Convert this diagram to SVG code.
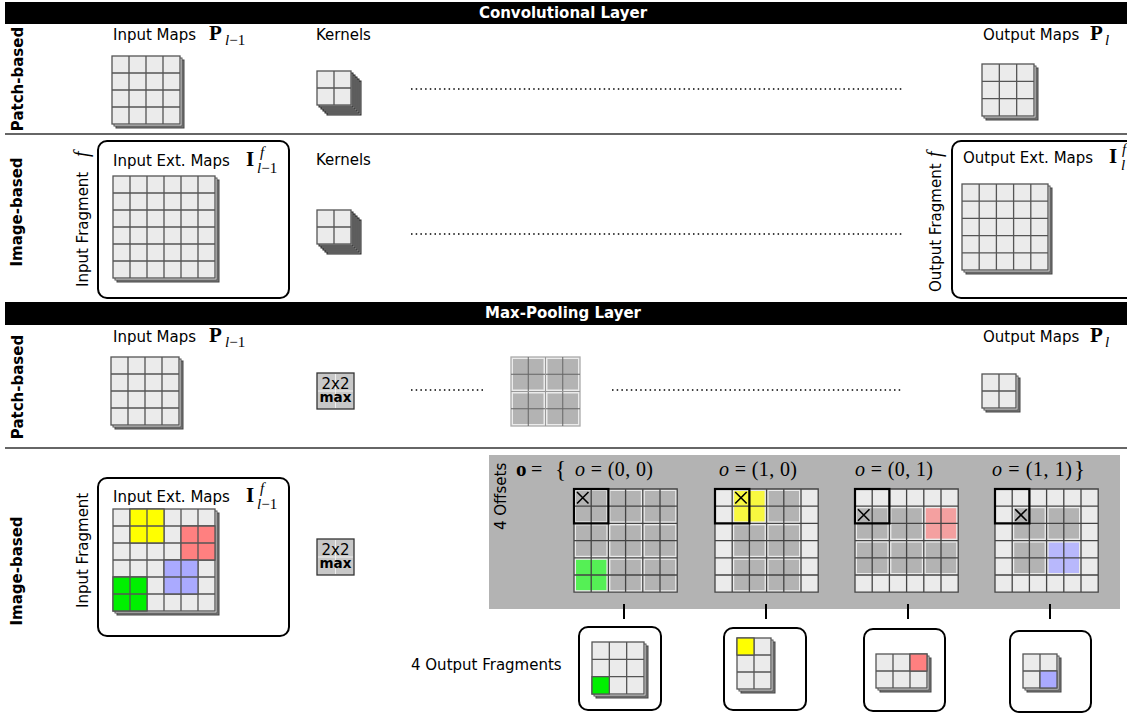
<svg xmlns="http://www.w3.org/2000/svg" width="1127" height="715" viewBox="0 0 1127 715">
<style>
text{font-family:"DejaVu Sans",sans-serif;fill:#000;}
.lbl{font-size:15px;}
.side{font-size:15px;font-weight:bold;}
.bar{font-size:15px;font-weight:bold;fill:#fff;}
.mb{font-family:"Liberation Serif",serif;font-size:21px;font-weight:bold;}
.m{font-family:"Liberation Serif",serif;font-size:20px;}
.mi{font-style:italic;}
.ms{font-family:"Liberation Serif",serif;font-size:15px;font-style:italic;}
.cell{fill:#ebebeb;stroke:#555;stroke-width:1.3;}
.gl{fill:none;stroke:#555;stroke-width:1.3;}
.sh1{fill:#ebebeb;stroke:#555;stroke-width:1;}
.sh2{fill:#7a7a7a;stroke:#444;stroke-width:1;}
.kl{fill:#999;stroke:#222;stroke-width:1;}
.frame{fill:#fff;stroke:#000;stroke-width:2;}
.sep{stroke:#666;stroke-width:2;}
.dots{stroke:#000;stroke-width:1.5;stroke-dasharray:1.5 3.2;fill:none;}
.win{fill:#b3b3b3;}
.bold{fill:none;stroke:#000;stroke-width:2.2;}
.x{stroke:#000;stroke-width:1.6;}
.tick{stroke:#000;stroke-width:2;}
.cg{fill:#00f000;stroke:#555;stroke-width:1.3;}
.cy{fill:#ffff00;stroke:#555;stroke-width:1.3;}
.cr{fill:#ff8080;stroke:#555;stroke-width:1.3;}
.cb{fill:#aaaaff;stroke:#555;stroke-width:1.3;}
.wg{fill:#55f055;}
.wy{fill:#f8f840;}
.wr{fill:#f4a0a0;}
.wb{fill:#b8b8fc;}
.mx{fill:#c8c8c8;stroke:#333;stroke-width:1.3;}
</style>
<defs>
<g id="g2"><rect class="cell" x="0" y="0" width="34" height="34"/><path class="gl" d="M17 0V34M0 17H34"/></g>
<g id="g3"><rect class="cell" x="0" y="0" width="52" height="52"/><path class="gl" d="M17.33 0V52M34.67 0V52M0 17.33H52M0 34.67H52"/></g>
<g id="g4"><rect class="cell" x="0" y="0" width="68" height="68"/><path class="gl" d="M17 0V68M34 0V68M51 0V68M0 17H68M0 34H68M0 51H68"/></g>
<g id="g5"><rect class="cell" x="0" y="0" width="86" height="86"/><path class="gl" d="M17.2 0V86M34.4 0V86M51.6 0V86M68.8 0V86M0 17.2H86M0 34.4H86M0 51.6H86M0 68.8H86"/></g>
<g id="g6"><rect class="cell" x="0" y="0" width="102" height="102"/><path class="gl" d="M17 0V102M34 0V102M51 0V102M68 0V102M85 0V102M0 17H102M0 34H102M0 51H102M0 68H102M0 85H102"/></g>
<g id="g23"><rect class="cell" x="0" y="0" width="34" height="51"/><path class="gl" d="M17 0V51M0 17H34M0 34H34"/></g>
<g id="g32"><rect class="cell" x="0" y="0" width="51" height="34"/><path class="gl" d="M17 0V34M34 0V34M0 17H51"/></g>
<rect id="ob" x="0" y="0" width="103.2" height="103.2" fill="#ebebeb"/>
<path id="ol" fill="none" stroke="#444" stroke-width="1.3" d="M0 0H103.2V103.2H0ZM17.2 0V103.2M34.4 0V103.2M51.6 0V103.2M68.8 0V103.2M86 0V103.2M0 17.2H103.2M0 34.4H103.2M0 51.6H103.2M0 68.8H103.2M0 86H103.2"/>
<g id="maxbox"><rect class="mx" x="0" y="0" width="37" height="36"/><path d="M18.5 1V35M1 18H36" stroke="#eee" stroke-width="1"/><text x="18.5" y="16" text-anchor="middle" style="font-size:15px">2x2</text><text x="18.5" y="29" text-anchor="middle" style="font-size:13.5px;font-weight:bold">max</text></g>
</defs>

<rect width="1127" height="715" fill="#fff"/>

<g id="bars">
<rect x="5" y="2" width="1122" height="22" fill="#000"/>
<text class="bar" x="563" y="18" text-anchor="middle">Convolutional Layer</text>
<rect x="5" y="302" width="1122" height="23" fill="#000"/>
<text class="bar" x="563" y="318" text-anchor="middle">Max-Pooling Layer</text>
<line class="sep" x1="5" y1="134" x2="1127" y2="134"/>
<line class="sep" x1="5" y1="448" x2="1127" y2="448"/>
</g>

<g id="row-labels">
<text class="side" transform="translate(23,79) rotate(-90)" text-anchor="middle">Patch-based</text>
<text class="side" transform="translate(22,212) rotate(-90)" text-anchor="middle">Image-based</text>
<text class="side" transform="translate(23,387) rotate(-90)" text-anchor="middle">Patch-based</text>
<text class="side" transform="translate(22,571) rotate(-90)" text-anchor="middle">Image-based</text>
</g>

<g id="conv-patch-input">
<text class="lbl" x="113" y="40">Input Maps</text>
<text class="mb" x="209" y="40">P</text><text class="ms" x="225" y="45">l<tspan style="font-style:normal">−1</tspan></text>
<rect class="sh2" x="116" y="60" width="68" height="68"/><rect class="sh1" x="114" y="58" width="68" height="68"/>
<use href="#g4" x="112" y="56"/>
</g>
<g id="conv-patch-kernels">
<text class="lbl" x="316" y="40">Kernels</text>
<rect class="kl" x="327" y="81" width="34" height="34"/><rect class="kl" x="325" y="79" width="34" height="34"/><rect class="kl" x="323" y="77" width="34" height="34"/><rect class="kl" x="321" y="75" width="34" height="34"/><rect class="kl" x="319" y="73" width="34" height="34"/>
<use href="#g2" x="317" y="71"/>
</g>
<g id="conv-patch-output">
<text class="lbl" x="983" y="40">Output Maps</text>
<text class="mb" x="1090" y="40">P</text><text class="ms" x="1105" y="45">l</text>
<rect class="sh2" x="986" y="68" width="52" height="52"/><rect class="sh1" x="984" y="66" width="52" height="52"/>
<use href="#g3" x="982" y="64"/>
</g>

<g id="conv-image-input">
<rect class="frame" x="98" y="141" width="191" height="157" rx="9"/>
<text class="lbl" transform="translate(88,287) rotate(-90)">Input Fragment</text>
<text class="m mi" transform="translate(88,157) rotate(-90)">f</text>
<text class="lbl" x="113" y="166">Input Ext. Maps</text>
<text class="mb" x="246" y="166">I</text><text class="ms" x="260" y="157">f</text><text class="ms" x="257" y="173">l<tspan style="font-style:normal">−1</tspan></text>
<rect class="sh2" x="117" y="180" width="102" height="102"/><rect class="sh1" x="115" y="178" width="102" height="102"/>
<use href="#g6" x="113" y="176"/>
</g>
<g id="conv-image-kernels">
<text class="lbl" x="316" y="165">Kernels</text>
<rect class="kl" x="327" y="220" width="34" height="34"/><rect class="kl" x="325" y="218" width="34" height="34"/><rect class="kl" x="323" y="216" width="34" height="34"/><rect class="kl" x="321" y="214" width="34" height="34"/><rect class="kl" x="319" y="212" width="34" height="34"/>
<use href="#g2" x="317" y="210"/>
</g>
<g id="conv-image-output">
<rect class="frame" x="952" y="141" width="200" height="157" rx="9"/>
<text class="lbl" transform="translate(941,292) rotate(-90)">Output Fragment</text>
<text class="m mi" transform="translate(941,157) rotate(-90)">f</text>
<text class="lbl" x="963" y="163">Output Ext. Maps</text>
<text class="mb" x="1109" y="163">I</text><text class="ms" x="1122" y="154">f</text><text class="ms" x="1121" y="170">l</text>
<rect class="sh2" x="966" y="188" width="86" height="86"/><rect class="sh1" x="964" y="186" width="86" height="86"/>
<use href="#g5" x="962" y="184"/>
</g>

<g id="pool-patch-input">
<text class="lbl" x="113" y="342">Input Maps</text>
<text class="mb" x="209" y="342">P</text><text class="ms" x="225" y="347">l<tspan style="font-style:normal">−1</tspan></text>
<rect class="sh2" x="115" y="361" width="68" height="68"/><rect class="sh1" x="113" y="359" width="68" height="68"/>
<use href="#g4" x="111" y="357"/>
</g>
<g id="pool-patch-max"><use href="#maxbox" x="317" y="373"/></g>
<g id="pool-patch-windows" transform="translate(511,357)">
<rect x="0" y="0" width="69" height="69" fill="#ebebeb" stroke="#aaa" stroke-width="1.3"/>
<rect class="win" x="2" y="2" width="30.5" height="30.5"/><rect class="win" x="36.5" y="2" width="30.5" height="30.5"/>
<rect class="win" x="2" y="36.5" width="30.5" height="30.5"/><rect class="win" x="36.5" y="36.5" width="30.5" height="30.5"/>
<path d="M17.25 0V69M51.75 0V69M0 17.25H69M0 51.75H69" stroke="#666" stroke-width="1"/>
<path d="M34.5 0V69M0 34.5H69" stroke="#999" stroke-width="1"/>
</g>
<g id="pool-patch-output">
<text class="lbl" x="983" y="342">Output Maps</text>
<text class="mb" x="1090" y="342">P</text><text class="ms" x="1105" y="347">l</text>
<rect class="sh2" x="986" y="378" width="34" height="34"/><rect class="sh1" x="984" y="376" width="34" height="34"/>
<use href="#g2" x="982" y="374"/>
</g>

<g id="pool-image-input">
<rect class="frame" x="98" y="478" width="191" height="158" rx="9"/>
<text class="lbl" transform="translate(88,608) rotate(-90)">Input Fragment</text>
<text class="lbl" x="113" y="502">Input Ext. Maps</text>
<text class="mb" x="246" y="502">I</text><text class="ms" x="260" y="493">f</text><text class="ms" x="257" y="509">l<tspan style="font-style:normal">−1</tspan></text>
<rect class="sh2" x="117" y="513" width="102" height="102"/><rect class="sh1" x="115" y="511" width="102" height="102"/>
<use href="#g6" x="113" y="509"/>
<path class="cy" d="M130 509h34v34h-34zM147 509v34M130 526h34"/>
<path class="cr" d="M181 526h34v34h-34zM198 526v34M181 543h34"/>
<path class="cb" d="M164 560h34v34h-34zM181 560v34M164 577h34"/>
<path class="cg" d="M113 577h34v34h-34zM130 577v34M113 594h34"/>
</g>
<g id="pool-image-max"><use href="#maxbox" x="317" y="539"/></g>

<g id="offsets-panel">
<rect x="489" y="455" width="631" height="154" fill="#b3b3b3"/>
<text class="lbl" transform="translate(506,530) rotate(-90)">4 Offsets</text>
<text class="mb" x="516" y="476">o</text>
<text class="m" x="531" y="476">=</text>
<text class="m" x="555" y="477" style="font-size:23px">{</text>
<text class="m" x="575" y="476" textLength="78" lengthAdjust="spacing"><tspan class="mi">o</tspan> = (0, 0)</text>
<text class="m" x="719" y="476" textLength="78" lengthAdjust="spacing"><tspan class="mi">o</tspan> = (1, 0)</text>
<text class="m" x="855" y="476" textLength="78" lengthAdjust="spacing"><tspan class="mi">o</tspan> = (0, 1)</text>
<text class="m" x="992" y="476" textLength="80" lengthAdjust="spacing"><tspan class="mi">o</tspan> = (1, 1)</text>
<text class="m" x="1074" y="477" style="font-size:23px">}</text>
</g>

<g id="offset-00" transform="translate(574,489)">
<use href="#ob"/>
<rect class="win" x="2" y="2" width="30.4" height="30.4"/><rect class="win" x="36.4" y="2" width="30.4" height="30.4"/><rect class="win" x="70.8" y="2" width="30.4" height="30.4"/>
<rect class="win" x="2" y="36.4" width="30.4" height="30.4"/><rect class="win" x="36.4" y="36.4" width="30.4" height="30.4"/><rect class="win" x="70.8" y="36.4" width="30.4" height="30.4"/>
<rect class="wg" x="2" y="70.8" width="30.4" height="30.4"/><rect class="win" x="36.4" y="70.8" width="30.4" height="30.4"/><rect class="win" x="70.8" y="70.8" width="30.4" height="30.4"/>
<use href="#ol"/>
<rect class="bold" x="0" y="0" width="34.4" height="34.4"/>
<path class="x" d="M3 3L14.5 14.5M14.5 3L3 14.5"/>
</g>
<g id="offset-10" transform="translate(715,489)">
<use href="#ob"/>
<rect class="wy" x="19.2" y="2" width="30.4" height="30.4"/><rect class="win" x="53.6" y="2" width="30.4" height="30.4"/>
<rect class="win" x="19.2" y="36.4" width="30.4" height="30.4"/><rect class="win" x="53.6" y="36.4" width="30.4" height="30.4"/>
<rect class="win" x="19.2" y="70.8" width="30.4" height="30.4"/><rect class="win" x="53.6" y="70.8" width="30.4" height="30.4"/>
<use href="#ol"/>
<rect class="bold" x="0" y="0" width="34.4" height="34.4"/>
<path class="x" d="M20.2 3L31.7 14.5M31.7 3L20.2 14.5"/>
</g>
<g id="offset-01" transform="translate(855,489)">
<use href="#ob"/>
<rect class="win" x="2" y="19.2" width="30.4" height="30.4"/><rect class="win" x="36.4" y="19.2" width="30.4" height="30.4"/><rect class="wr" x="70.8" y="19.2" width="30.4" height="30.4"/>
<rect class="win" x="2" y="53.6" width="30.4" height="30.4"/><rect class="win" x="36.4" y="53.6" width="30.4" height="30.4"/><rect class="win" x="70.8" y="53.6" width="30.4" height="30.4"/>
<use href="#ol"/>
<rect class="bold" x="0" y="0" width="34.4" height="34.4"/>
<path class="x" d="M3 20.2L14.5 31.7M14.5 20.2L3 31.7"/>
</g>
<g id="offset-11" transform="translate(995,489)">
<use href="#ob"/>
<rect class="win" x="19.2" y="19.2" width="30.4" height="30.4"/><rect class="win" x="53.6" y="19.2" width="30.4" height="30.4"/>
<rect class="win" x="19.2" y="53.6" width="30.4" height="30.4"/><rect class="wb" x="53.6" y="53.6" width="30.4" height="30.4"/>
<use href="#ol"/>
<rect class="bold" x="0" y="0" width="34.4" height="34.4"/>
<path class="x" d="M20.2 20.2L31.7 31.7M31.7 20.2L20.2 31.7"/>
</g>

<g id="connectors">
<path class="dots" d="M411 89H903M411 234H903M411 390H485M612 390H903"/>
<line class="tick" x1="624" y1="604" x2="624" y2="619"/>
<line class="tick" x1="766" y1="604" x2="766" y2="619"/>
<line class="tick" x1="908" y1="604" x2="908" y2="619"/>
<line class="tick" x1="1050" y1="604" x2="1050" y2="619"/>
</g>

<text id="out-frag-label" class="lbl" x="411" y="670">4 Output Fragments</text>
<g id="frag-00">
<rect class="frame" x="579" y="627" width="82" height="83" rx="9"/>
<rect class="sh2" x="596" y="646" width="52" height="52"/><rect class="sh1" x="594" y="644" width="52" height="52"/>
<use href="#g3" x="592" y="642"/>
<rect class="cg" x="592" y="676.67" width="17.33" height="17.33"/>
</g>
<g id="frag-10">
<rect class="frame" x="724" y="628" width="82" height="82" rx="9"/>
<rect class="sh2" x="741" y="642" width="34" height="51"/><rect class="sh1" x="739" y="640" width="34" height="51"/>
<use href="#g23" x="737" y="638"/>
<rect class="cy" x="737" y="638" width="17" height="17"/>
</g>
<g id="frag-01">
<rect class="frame" x="864" y="629" width="81" height="82" rx="9"/>
<rect class="sh2" x="880" y="658" width="51" height="34"/><rect class="sh1" x="878" y="656" width="51" height="34"/>
<use href="#g32" x="876" y="654"/>
<rect class="cr" x="910" y="654" width="17" height="17"/>
</g>
<g id="frag-11">
<rect class="frame" x="1010" y="631" width="81" height="81" rx="9"/>
<rect class="sh2" x="1027" y="658" width="34" height="34"/><rect class="sh1" x="1025" y="656" width="34" height="34"/>
<use href="#g2" x="1023" y="654"/>
<rect class="cb" x="1040" y="671" width="17" height="17"/>
</g>
</svg>
